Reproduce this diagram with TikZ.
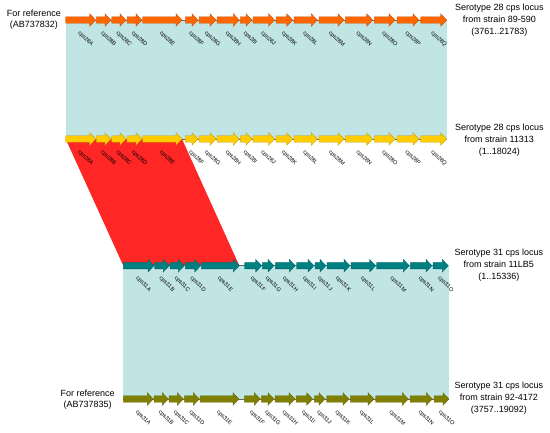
\documentclass[tikz,border=0pt]{standalone}
\usepackage{fontspec}
\setmainfont{Liberation Sans}
\definecolor{cOrange}{RGB}{255,102,0}
\definecolor{cYellow}{RGB}{255,204,0}
\definecolor{cTeal}{RGB}{0,128,128}
\definecolor{cOlive}{RGB}{128,128,0}
\definecolor{cBand}{RGB}{193,228,228}
\definecolor{cRed}{RGB}{255,38,38}
\tikzset{
  band/.style={fill=cBand, draw=none},
  hit/.style={fill=cRed, draw=none},
  backbone/.style={draw=black!60, line width=0.6pt},
  genelab/.style={font=\fontsize{5.6}{6}\selectfont, rotate=-45, anchor=north west, inner sep=0pt},
  locuslab/.style={font=\fontsize{9}{12}\selectfont, align=center, inner sep=0pt},
  reflab/.style={font=\fontsize{9}{11}\selectfont, align=center, inner sep=0pt},
}
% \genearrow{colour}{start}{end}{centre y}
\newcommand{\genearrow}[4]{%
  \draw[fill=#1, draw=#1!75!black, line width=0.3pt]
    (#2,#4-3.2) -- (#3-6,#4-3.2) -- (#3-6,#4-6.3) -- (#3,#4) --
    (#3-6,#4+6.3) -- (#3-6,#4+3.2) -- (#2,#4+3.2) -- cycle;}
\begin{document}
\begin{tikzpicture}[x=1pt,y=-1pt]
\useasboundingbox (0,0) rectangle (550,433);
% comparison bands
\fill[band] (65.7,20) rectangle (446.7,139);
\fill[hit] (65.7,139) -- (182,139) -- (239.3,265.7) -- (123.3,265.7) -- cycle;
\fill[band] (123.3,265.7) rectangle (448.7,399);
% backbones
\coordinate (b1s) at (65.7,20);  \coordinate (b1e) at (446.7,20);
\coordinate (b2s) at (65.7,139); \coordinate (b2e) at (446.7,139);
\coordinate (b3s) at (123.3,265.7); \coordinate (b3e) at (448.3,265.7);
\coordinate (b4s) at (123.3,399); \coordinate (b4e) at (449,399);
\draw[backbone] (b1s) -- (b1e);
\draw[backbone] (b2s) -- (b2e);
\draw[backbone] (b3s) -- (b3e);
\draw[backbone] (b4s) -- (b4e);
% track 1 and 2 genes
\foreach \s/\e/\n in {65.7/95.7/A, 96.3/111/B, 111.7/126/C, 127/142/D, 142.7/182/E,
  185.3/198/F, 199/216/G, 217/239.3/H, 240.3/252/I, 253/274.5/J, 276/292.7/K,
  294/317.3/L, 319/344/M, 345.3/372.7/N, 374.3/395/O, 397/419/P, 420.7/446.7/Q}{
  \genearrow{cOrange}{\s}{\e}{20}
  \node[genelab] (ga\n) at ({(\s+\e)/2},30) {cps28\n};
  \genearrow{cYellow}{\s}{\e}{139}
  \node[genelab] (gb\n) at ({(\s+\e)/2},149) {cps28\n};
}
% track 3 genes
\foreach \s/\e/\n in {123.3/154/A, 154.7/169.3/B, 170/184.3/C, 185.3/200.7/D, 201.3/239.3/E,
  244.7/261.7/F, 262.3/274/G, 275.3/295.3/H, 296.7/314/I, 315/326/J, 327/350/K,
  351/375.7/L, 376.7/409.3/M, 410.3/432/N, 433/448.3/O}{
  \genearrow{cTeal}{\s}{\e}{265.7}
  \node[genelab] (gc\n) at ({(\s+\e)/2},275.5) {cps31\n};
}
% track 4 genes
\foreach \s/\e/\n in {123.3/153.3/A, 154/168.3/B, 169/183.3/C, 184.3/199.3/D, 200/239/E,
  244.3/260.3/F, 261.3/274/G, 275/295/H, 296/312.7/I, 314.3/325/J, 326.7/349/K,
  350.3/374/L, 375.7/408.3/M, 410/432.3/N, 434/449/O}{
  \genearrow{cOlive}{\s}{\e}{399}
  \node[genelab] (gd\n) at ({(\s+\e)/2},409) {cps31\n};
}
% locus labels
\node[locuslab] (l1) at (499.4,20.5) {Serotype 28 cps locus\\from strain 89-590\\(3761..21783)};
\node[locuslab] (l2) at (499.3,140) {Serotype 28 cps locus\\from strain 11313\\(1..18024)};
\node[locuslab] (l3) at (498.8,265) {Serotype 31 cps locus\\from strain 11LB5\\(1..15336)};
\node[locuslab] (l4) at (498.8,397.7) {Serotype 31 cps locus\\from strain 92-4172\\(3757..19092)};
% reference labels
\node[reflab] (r1) at (33.8,19.5) {For reference\\(AB737832)};
\node[reflab] (r4) at (87.7,399.2) {For reference\\(AB737835)};
\end{tikzpicture}
\end{document}
